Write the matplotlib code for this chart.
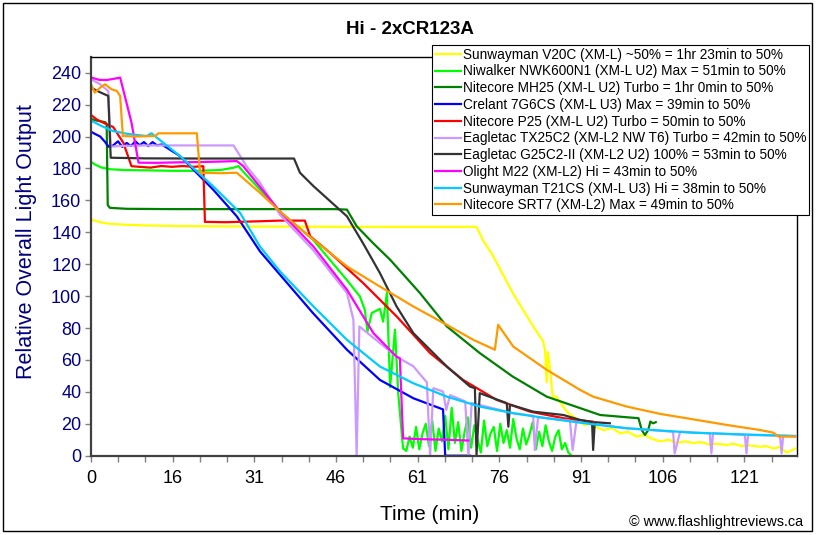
import matplotlib
matplotlib.use("Agg")
import matplotlib.pyplot as plt
from matplotlib.patches import Rectangle
import numpy as np

plt.rcParams['font.family'] = ['Liberation Sans', 'DejaVu Sans']

# ---------------- data (time in minutes, relative output) ----------------
title = "Hi - 2xCR123A"
xlabel = "Time (min)"
ylabel = "Relative Overall Light Output"
credit = "\u00a9 www.flashlightreviews.ca"

x_tick_labels = ["0", "16", "31", "46", "61", "76", "91", "106", "121"]
y_ticks = [0, 20, 40, 60, 80, 100, 120, 140, 160, 180, 200, 220, 240]

labels = [
    "Sunwayman V20C (XM-L) ~50% = 1hr 23min to 50%",
    "Niwalker NWK600N1 (XM-L U2) Max = 51min to 50%",
    "Nitecore MH25 (XM-L U2) Turbo = 1hr 0min to 50%",
    "Crelant 7G6CS (XM-L U3) Max = 39min to 50%",
    "Nitecore P25 (XM-L U2) Turbo = 50min to 50%",
    "Eagletac TX25C2 (XM-L2 NW T6) Turbo = 42min to 50%",
    "Eagletac G25C2-II (XM-L2 U2) 100% = 53min to 50%",
    "Olight M22 (XM-L2) Hi = 43min to 50%",
    "Sunwayman T21CS (XM-L U3) Hi = 38min to 50%",
    "Nitecore SRT7 (XM-L2) Max = 49min to 50%",
]
colors = ["#ffff00", "#00ff00", "#008000", "#0000ff", "#ff0000",
          "#cc99ff", "#333333", "#ff00ff", "#00ccff", "#ff9900"]

v20c_t = [0, 1.5, 3, 5, 7, 10, 15, 20, 30, 40, 50, 60, 71.4, 72.6, 74.5, 78.1, 81.9, 83.7, 84.1, 84.4,
          84.6, 85.1, 85.5, 86.2, 87.4, 88.3, 89.3, 90.2, 91.5, 92.5, 93.6, 95, 96.5, 98, 99.5, 101,
          102.5, 104, 105.4, 107, 108.5, 110, 111.5, 113, 114.5, 116, 117.7, 119, 120.5, 122, 123.9,
          125, 126.5, 127.5, 128.8, 129.6, 130.4]
v20c_v = [148, 146.5, 145.5, 145, 144.6, 144.3, 144, 143.8, 143.6, 143.5, 143.4, 143.4, 143.4, 135, 125,
          102, 81, 72, 66, 46, 65, 52, 37, 37, 31, 27, 24.5, 22.5, 19, 21, 18, 16, 17.5, 14, 15, 12, 13,
          10.5, 9, 10, 8, 9, 8, 8.5, 7, 7.5, 6.7, 7.5, 6, 6.5, 5.6, 6, 4.5, 5.5, 2, 3, 4.5]

nwk_t = [0, 1, 2, 3.5, 6, 10, 15, 20, 24, 26.5, 27.3, 28.1, 31.5, 35, 41.1, 47.4, 49.8, 50.7, 51.2, 52,
         53.5, 54.1, 54.8, 55.4, 56.3, 56.9, 57.8,
         58.4, 59.0, 59.6, 60.2, 60.8, 61.4, 62.0, 62.6, 63.2, 63.8, 64.4, 65.0, 65.6, 66.2, 66.8, 67.4,
         68.0, 68.6, 69.2, 69.8, 70.4, 71.0, 71.6, 72.2, 72.8, 73.4, 74.0, 74.6, 75.2, 75.8, 76.4, 77.0,
         77.6, 78.2, 78.8, 79.4, 80.0, 80.6, 81.2, 81.8, 82.4, 83.0, 83.6, 84.2, 84.8, 85.4, 86.0, 86.6,
         87.2, 87.8, 88.4, 89.0]
nwk_v = [184, 182, 180.5, 179.5, 179, 178.8, 178.5, 178.5, 179, 180.5, 181.5, 178.3, 166, 153, 135.4,
         110, 99.8, 91.5, 77.8, 89.4, 92, 84, 102, 43, 79, 39, 4.6,
         3, 12, 5, 18, 4, 14, 20, 6, 22, 3, 17, 9, 25, 4, 30, 8, 21, 3, 15, 24, 5, 19, 10, 2, 22, 6, 14,
         18, 3, 20, 8, 16, 5, 23, 11, 4, 17, 7, 13, 21, 4, 15, 6, 19, 9, 3, 12, 16, 4, 8, 2, 0]

mh25_t = [0, 1, 2.6, 2.9, 3.1, 3.5, 6.6, 15, 25, 35, 45, 47.4, 49.2, 52.3, 55.4, 60.9, 65.9, 72.0, 78.1,
          84.4, 90.6, 94.3, 99.2, 101.4, 102.0, 102.6, 103.2, 103.6, 104.1, 104.6]
mh25_v = [211, 210, 209, 208, 157, 155.3, 154.7, 154.5, 154.5, 154.5, 154.5, 154.2, 143.8, 133, 122.8,
          102, 81, 64.3, 49.6, 37, 29.8, 25.5, 24.1, 23.5, 16.1, 13, 16.1, 21.4, 20.3, 21]

crelant_t = [0, 0.8, 1.7, 2.5, 3.3, 4.1, 5.0, 5.8, 6.6, 7.4, 8.2, 9.0, 9.8, 10.6, 11.4, 12.2, 13.1, 16.5,
             22.6, 27.0, 31.3, 35.0, 41.1, 47.4, 53.5, 59.7, 65.2, 65.6, 70.2]
crelant_v = [203, 201.5, 200, 197, 193.5, 194.4, 197, 193.5, 196, 194, 197, 194.5, 196.5, 194, 196.5,
             194.5, 195, 187.7, 166.8, 150, 128, 113.4, 89.4, 66.4, 47.5, 36, 29, 0, 0]

p25_t = [0, 1.05, 2.9, 4.1, 6.0, 7.5, 9, 11, 13, 15, 17, 19, 20.8, 21.1, 25, 31.3, 35, 39.6, 40.6, 44.3,
         50.4, 56.6, 62.8, 68.9, 75.1, 81.3, 87.5, 93.0]
p25_v = [213.5, 210.7, 207.6, 206, 196, 181.4, 181, 180.5, 181.5, 181, 181.5, 181, 181.4, 146.5, 146.3,
         146.9, 147.3, 147.3, 137.5, 127, 108.2, 87.3, 64.3, 47.5, 35, 27.6, 23.5, 21.3]

tx25_t = [0, 1.7, 3.2, 3.65, 5, 10, 15, 20, 26.4, 28.8, 31.3, 35.0, 41.1, 47.4, 48.6, 49.2, 49.7, 53.5,
          56.6, 59.7, 62.2, 62.8, 63.4, 65.2, 65.8, 66.5, 69.3, 69.9, 70.5, 78.2, 81.9, 82.2, 82.8,
          88.7, 89.2, 89.9, 96.7, 99.2, 107.8, 108.1, 109.1, 114.6, 114.9, 115.2, 121.1, 121.4, 121.7,
          127.6, 127.9, 128.2, 130.4]
tx25_v = [236, 232.7, 228.5, 193.6, 194, 194.4, 194.4, 194.4, 194.4, 181.4, 171, 151, 129, 102, 85.2, 0.4,
          81, 70.6, 62, 56, 46, 0, 42.3, 40.2, 28.7, 38, 34, 0, 33, 26.6, 25, 3.6, 24, 22, 3.6, 21.3,
          18.2, 17.2, 15, 1.5, 15, 14, 1.5, 14, 13, 1.5, 13, 12.5, 1.5, 12.5, 12]

g25_t = [0, 1.5, 3.2, 3.65, 10, 20, 30, 37.6, 38.7, 41.2, 47.4, 50.4, 53.5, 56.6, 59.7, 65.9, 70.2, 71.1,
         71.4, 72.0, 77.0, 77.3, 77.6, 81.9, 87.5, 90.6, 92.8, 93.0, 93.3, 96.1]
g25_v = [230.6, 228, 225.4, 186.7, 186.3, 186.2, 186.2, 186.2, 177.3, 168.9, 150, 133, 114.5, 93.5, 76.8,
         55.9, 43.3, 42.3, 0.4, 39.2, 32.9, 18.2, 32, 27.6, 25.5, 22.4, 21, 3.6, 21, 20.3]

m22_t = [0, 1.5, 2.9, 4, 5.4, 7.5, 8.8, 12, 16, 20, 24, 27.0, 28.2, 35.0, 41.2, 47.4, 52.3, 56.6, 57.2,
         57.8, 60, 63, 66, 69.9]
m22_v = [237, 235.5, 235.4, 236, 236.9, 208.7, 183.6, 183.5, 183.8, 184, 184.3, 184.6, 181.4, 153, 131,
         104, 76.8, 62, 61, 10.9, 10.5, 10.2, 10, 9.5]

t21_t = [0, 2, 4.1, 7, 10.3, 11.2, 16.5, 22.6, 27.6, 31.3, 35.0, 41.2, 47.4, 53.5, 59.7, 65.9, 72.0,
         78.2, 84.4, 90.6, 99.2, 111.5, 123.9, 130.4]
t21_v = [210, 206.5, 203.4, 201.5, 200.3, 202, 187.7, 168.9, 152.2, 131, 115.5, 93.5, 72.6, 55.9, 45.4,
         37, 30.8, 26.6, 23.5, 20.7, 17.2, 14.4, 13, 12.4]

srt7_t = [0, 0.7, 1.7, 2.6, 3.8, 4.8, 5.4, 5.9, 8, 11.9, 12.5, 16, 19.6, 20.2, 24, 27.0, 31.3, 35.0,
          41.2, 47.4, 53.5, 59.7, 65.9, 70.8, 74.8, 75.4, 78.2, 84.4, 90.6, 93.0, 99.2, 105.4, 111.5,
          117.7, 123.9, 126.4, 127.3, 130.4]
srt7_v = [232.7, 227.5, 230.6, 232.7, 229.6, 228.5, 225.4, 200.3, 200, 200.3, 202, 202, 202, 177.3,
          177, 177.3, 164.7, 153, 135.4, 118.6, 106, 93.5, 82, 72.6, 66.4, 82, 68.4, 53.8, 41.2, 37,
          30.8, 26.2, 22.8, 19.3, 16.1, 14.4, 12, 12]

series_t = [v20c_t, nwk_t, mh25_t, crelant_t, p25_t, tx25_t, g25_t, m22_t, t21_t, srt7_t]
series_v = [v20c_v, nwk_v, mh25_v, crelant_v, p25_v, tx25_v, g25_v, m22_v, t21_v, srt7_v]

# ---------------- figure ----------------
W, H = 817, 535
fig = plt.figure(figsize=(W / 100, H / 100), dpi=100)
fig.patch.set_facecolor("white")

ax = fig.add_axes([91 / W, 1 - 455.7 / H, (796.7 - 91) / W, (455.7 - 56.7) / H])
ax.set_facecolor("white")

handles = []
for t, v, c, lab in zip(series_t, series_v, colors, labels):
    h, = ax.plot(t, v, color=c, lw=1.6, label=lab)
    handles.append(h)

tick_step = 121 / 24
ax.set_xlim(0, 130.7)
ax.set_ylim(0, 250)
xt = [k * tick_step for k in range(26)]
ax.set_xticks(xt)
ax.set_xticklabels([x_tick_labels[k // 3] if k % 3 == 0 and k // 3 < len(x_tick_labels) else ""
                    for k in range(26)])
ax.set_yticks(y_ticks)
ax.set_yticklabels([str(y) for y in y_ticks])
ax.tick_params(axis="both", direction="out", length=4, width=1, color="#808080")
ax.tick_params(axis="y", labelcolor="#000080", labelsize=13, pad=3)
ax.tick_params(axis="x", labelcolor="black", labelsize=13, pad=6)

for s in ["left", "bottom"]:
    ax.spines[s].set_color("#404040")
    ax.spines[s].set_linewidth(1.6)
for s in ["top", "right"]:
    ax.spines[s].set_color("black")
    ax.spines[s].set_linewidth(1.0)

fig.text(410 / W, 1 - 30 / H, title, ha="center", va="center", fontsize=13.5, fontweight="bold")
fig.text(27 / W, 1 - 242 / H, ylabel, ha="center", va="center", rotation=90,
         fontsize=15.5, color="#000080")
fig.text(430 / W, 1 - 515 / H, xlabel, ha="center", va="center", fontsize=15)
fig.text(803 / W, 1 - 522 / H, credit, ha="right", va="center", fontsize=10.4)

leg = fig.legend(handles=handles, loc="upper left", bbox_to_anchor=(432 / W, 1 - 45 / H),
                 frameon=True, fancybox=False, fontsize=9.8, handlelength=1.9,
                 handletextpad=0.15, labelspacing=0.2, borderpad=0.2, borderaxespad=0)
leg.get_frame().set_edgecolor("black")
leg.get_frame().set_linewidth(0.8)
leg.get_frame().set_facecolor("white")
leg.get_frame().set_alpha(1)

fig.patches.append(Rectangle((2.7 / W, 1 - 530.5 / H), (811.7 - 2.7) / W, (530.5 - 2.7) / H,
                             transform=fig.transFigure, fill=False, edgecolor="black", lw=1))

fig.savefig("out.png", dpi=100, facecolor="white")
